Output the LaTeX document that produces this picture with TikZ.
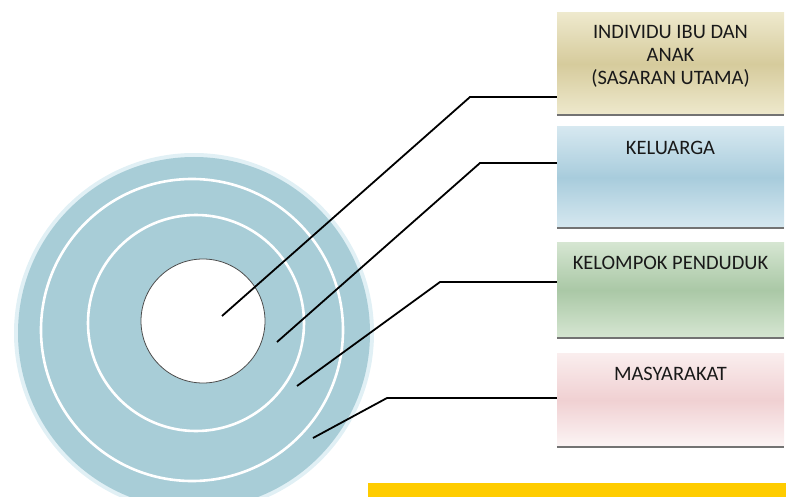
\documentclass[tikz,border=0pt]{standalone}
\usepackage{fontspec}
\setmainfont{Carlito}
\usepackage{tikz}
\usetikzlibrary{positioning}
\definecolor{ringblue}{RGB}{168,205,215}
\definecolor{glowblue}{RGB}{225,240,245}
\definecolor{khaki}{RGB}{214,203,156}
\definecolor{khakilight}{RGB}{238,233,205}
\definecolor{famblue}{RGB}{168,204,220}
\definecolor{famlight}{RGB}{214,232,240}
\definecolor{grpgreen}{RGB}{170,200,166}
\definecolor{grplight}{RGB}{214,230,210}
\definecolor{compink}{RGB}{240,208,210}
\definecolor{comlight}{RGB}{250,238,238}
\definecolor{baryellow}{RGB}{255,204,0}
\tikzstyle{level} = [
    shape=rectangle,
    minimum width=227pt,
    inner sep=0pt
]
\tikzstyle{edge}  = [
    draw=black!55,
    line width=1.6pt
]
\tikzstyle{lbl}   = [
    font=\fontsize{20.5}{23}\selectfont,
    text=black!90,
    align=center,
    inner sep=0pt,
    anchor=north
]
\tikzstyle{lead}  = [
    draw,
    line width=1.8pt
]
\tikzstyle{ring}  = [
    draw=white,
    line width=2.6pt
]

\begin{document}
\begin{tikzpicture}[x=1pt, y=-1pt]
\useasboundingbox (0,0) rectangle (786,497);
\clip (0,0) rectangle (786,497);

% disc with rings
\fill[glowblue] (194,333) circle (180);
\fill[ringblue] (194,333) circle (176);
\draw[ring] (192,330) circle (151);
\draw[ring] (196,323) circle (108);
\node[circle, fill=white, draw=black!70, line width=0.8pt, minimum width=124pt,
      inner sep=0pt] (core) at (203,321) {};

% boxes
\node[level, minimum height=102pt, top color=khakilight, bottom color=khakilight,
      middle color=khaki] (b1) at (670.5,64) {};
\node[level, minimum height=101pt, top color=famlight, bottom color=famlight,
      middle color=famblue] (b2) at (670.5,177.5) {};
\node[level, minimum height=96pt, top color=grplight, bottom color=grplight,
      middle color=grpgreen] (b3) at (670.5,290) {};
\node[level, minimum height=94pt, top color=comlight, bottom color=comlight!60,
      middle color=compink] (b4) at (670.5,400) {};
\foreach \b in {b1,b2,b3,b4}
    \draw[edge] (\b.south west) -- (\b.south east);

\node[lbl, below=12pt of b1.north] (t1) {INDIVIDU IBU DAN\\ANAK\\(SASARAN UTAMA)};
\node[lbl, below=14pt of b2.north] (t2) {KELUARGA};
\node[lbl, below=14pt of b3.north] (t3) {KELOMPOK PENDUDUK};
\node[lbl, below=14pt of b4.north] (t4) {MASYARAKAT};

% leader lines
\coordinate (p1) at (222,316);
\coordinate (p2) at (277,342);
\coordinate (p3) at (297,386);
\coordinate (p4) at (313,438);
\coordinate (k1) at (470,97);
\coordinate (k2) at (480,163);
\coordinate (k3) at (440,282);
\coordinate (k4) at (387,398);
\draw[lead] (p1) -- (k1) -- (k1 -| b1.west);
\draw[lead] (p2) -- (k2) -- (k2 -| b2.west);
\draw[lead] (p3) -- (k3) -- (k3 -| b3.west);
\draw[lead] (p4) -- (k4) -- (k4 -| b4.west);

% yellow bar
\fill[baryellow] (368,483) rectangle (786,497);

\end{tikzpicture}
\end{document}
